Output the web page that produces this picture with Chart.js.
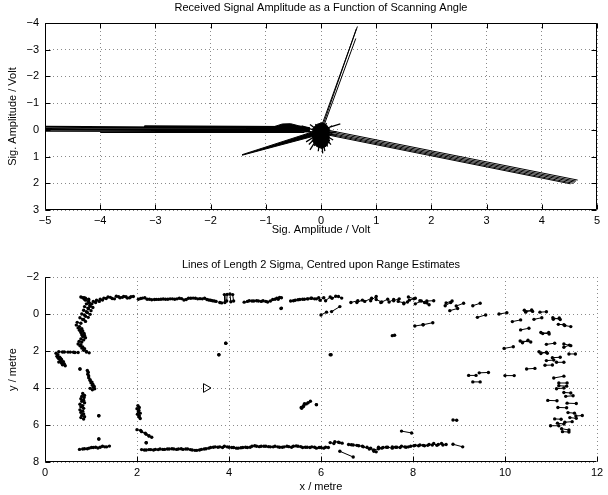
<!DOCTYPE html>
<html><head><meta charset="utf-8">
<script src="https://cdn.jsdelivr.net/npm/chart.js@4/dist/chart.umd.min.js"></script>
<style>
html,body{margin:0;padding:0;background:#fff;}
#w1{position:absolute;left:0;top:0;width:608px;height:240px;}
#w2{position:absolute;left:0;top:240px;width:608px;height:255px;}
</style></head><body>
<div id="w1"><canvas id="c1" width="608" height="240"></canvas></div>
<div id="w2"><canvas id="c2" width="608" height="255"></canvas></div>
<script>
// ---------- TOP CHART DATA (segments: [x1, y1, x2, y2]) ----------
const topTitle = 'Received Signal Amplitude as a Function of Scanning Angle';
const topXLabel = 'Sig. Amplitude / Volt';
const topYLabel = 'Sig. Amplitude / Volt';
const topXRange = [-5, 5];
const topYRange = [-4, 3];

const leftBand = [
  [-0.55,-0.08,-5.3,-0.14],[-0.5,-0.04,-5.3,-0.1],[-0.45,0.0,-5.3,-0.05],
  [-0.4,0.04,-5.3,0.0],[-0.35,0.07,-5.3,0.05],[-0.3,0.1,-4.0,0.1],
  [-0.6,-0.12,-3.2,-0.15],[-0.5,0.02,-2.2,0.0]
];
const upSpike = [
  [0.02,-0.2,0.66,-3.87],[0.04,-0.2,0.64,-3.78],[0.06,-0.2,0.63,-3.42]
];
const rightBand = [
  [0.05,-0.02,4.65,1.88],[0.05,0.03,4.62,1.92],[0.05,0.08,4.6,1.96],
  [0.05,0.12,4.57,2.0],[0.05,0.16,4.52,2.02]
];
const blobSpokes = [
  [0,0.1,-0.35,-0.15],[0,0.1,-0.3,0.05],[0,0.1,-0.3,0.25],[0,0.1,-0.27,0.45],
  [0,0.1,-0.22,0.55],[0,0.1,-0.2,0.75],[0,0.1,-0.12,0.6],[0,0.1,-0.05,0.8],
  [0,0.1,0.03,0.88],[0,0.1,0.07,0.8],[0,0.1,0.12,0.62],[0,0.1,0.18,0.55],
  [0,0.1,0.22,0.38],[0,0.1,0.25,0.2],[0,0.1,0.28,0.08],[0,0.1,0.2,-0.15],
  [0,0.1,0.1,-0.25],[0,0.1,0.0,-0.28],[0,0.1,-0.1,-0.22],[0,0.1,-0.2,-0.2],
  [0,0.0,0.35,-0.22]
];
// filled outlines (pairs of edges, filled between)
const wedgeEdgeA = [[-1.43,0.93],[-0.1,0.04]];
const wedgeEdgeB = [[-1.43,0.95],[-0.1,0.22]];
const blobEdgeA = [[-0.16,-0.02],[-0.08,-0.2],[0.02,-0.27],[0.1,-0.18],[0.16,-0.02]];
const blobEdgeB = [[-0.16,0.4],[-0.08,0.62],[0.02,0.7],[0.1,0.6],[0.16,0.38]];
const bulgeEdgeA = [[-0.85,-0.12],[-0.7,-0.22],[-0.55,-0.23],[-0.4,-0.15],[-0.2,-0.08]];
const bulgeEdgeB = [[-0.85,0.05],[-0.2,0.08]];

// ---------- BOTTOM CHART DATA (segments: [x1, y1, x2, y2]) ----------
const botTitle = 'Lines of Length 2 Sigma, Centred upon Range Estimates';
const botXLabel = 'x / metre';
const botYLabel = 'y / metre';
const botXRange = [0, 12];
const botYRange = [-2, 8];
const robotPose = [3.5, 4.0];

const topWall = [
  [0.78,-0.92,0.85,-0.88],[0.88,-0.86,0.95,-0.8],
  [1.05,-0.68,1.1,-0.62],[1.12,-0.74,1.18,-0.68],[1.2,-0.8,1.25,-0.76],[1.28,-0.86,1.33,-0.84],
  [1.37,-0.92,1.42,-0.9],[1.46,-0.84,1.51,-0.82],[1.55,-0.96,1.6,-0.93],[1.63,-0.88,1.68,-0.9],
  [1.71,-0.95,1.76,-0.93],[1.79,-0.86,1.84,-0.88],[1.87,-0.93,1.92,-0.95],
  [2.03,-0.8,2.08,-0.84],[2.12,-0.86,2.17,-0.88],[2.22,-0.8,2.27,-0.8],[2.32,-0.77,2.38,-0.78],
  [2.42,-0.79,2.47,-0.79],[2.52,-0.8,2.57,-0.81],[2.62,-0.8,2.67,-0.8],[2.72,-0.82,2.77,-0.82],
  [2.82,-0.8,2.87,-0.82],[2.92,-0.85,2.97,-0.83],[3.02,-0.76,3.07,-0.78],[3.12,-0.85,3.17,-0.85],
  [3.22,-0.86,3.27,-0.85],[3.32,-0.82,3.37,-0.83],[3.42,-0.82,3.47,-0.85],[3.52,-0.78,3.56,-0.76],
  [3.6,-0.74,3.64,-0.72],[3.68,-0.7,3.72,-0.68],[3.8,-0.62,3.84,-0.6],
  [3.9,-1.05,3.91,-0.62],[3.96,-1.06,3.95,-0.7],[4.02,-1.08,4.04,-0.66],[4.08,-1.05,4.1,-0.7],
  [4.33,-0.64,4.4,-0.68],[4.44,-0.72,4.5,-0.7],[4.54,-0.7,4.6,-0.72],[4.64,-0.7,4.7,-0.68],
  [4.74,-0.72,4.8,-0.68],[4.84,-0.65,4.9,-0.7],[4.95,-0.78,5.0,-0.8],[5.04,-0.86,5.1,-0.9],
  [5.07,-0.8,5.14,-0.88],[5.34,-0.7,5.4,-0.72],[5.44,-0.74,5.5,-0.77],[5.54,-0.78,5.6,-0.8],
  [5.64,-0.8,5.7,-0.82],[5.72,-0.82,5.78,-0.85],[5.8,-0.85,5.86,-0.82],[5.9,-0.82,5.95,-0.88],
  [5.98,-0.74,6.06,-0.88],[6.1,-0.72,6.2,-0.92],[6.24,-0.85,6.32,-0.96],[6.38,-0.95,6.45,-0.86],
  [6.65,-0.62,6.8,-0.72],[6.78,-0.62,6.9,-0.75],[6.95,-0.68,7.1,-0.85],[7.08,-0.72,7.2,-0.95],
  [7.2,-0.78,7.32,-0.65],[7.3,-0.62,7.45,-0.8],[7.48,-0.65,7.58,-0.78],[7.58,-0.72,7.7,-0.82],
  [7.68,-0.68,7.8,-0.6],[7.8,-0.55,7.88,-0.65],[7.9,-0.92,8.02,-0.82],[7.92,-0.75,8.05,-0.85],
  [8.05,-0.55,8.18,-0.7],[8.15,-0.72,8.3,-0.6],[8.25,-0.62,8.35,-0.5],[8.3,-0.7,8.45,-0.72],
  [8.7,-0.45,8.82,-0.62],[8.72,-0.6,8.85,-0.7],[8.8,-0.18,8.97,-0.3],[8.94,-0.43,9.1,-0.58],
  [9.3,-0.45,9.46,-0.58],[9.4,0.18,9.58,0.05]
];
const leftWall = [
  [0.82,-0.88,0.86,-0.8],[0.88,-0.75,0.95,-0.62],[0.95,-0.7,1.02,-0.55],[0.9,-0.55,0.98,-0.42],
  [0.98,-0.5,1.04,-0.35],[0.86,-0.4,0.94,-0.28],[0.94,-0.32,1.0,-0.18],[0.84,-0.2,0.92,-0.08],
  [0.9,-0.12,0.98,0.02],[0.8,0.0,0.88,0.12],[0.86,0.05,0.94,0.18],[0.76,0.2,0.84,0.3],
  [0.82,0.3,0.88,0.4],[0.7,0.45,0.78,0.5],[0.68,0.6,0.75,0.68],[0.72,0.75,0.8,0.8],
  [0.75,0.88,0.82,0.92],[0.78,1.0,0.85,1.05],[0.8,1.12,0.86,1.16],[0.82,1.22,0.88,1.28],
  [0.78,1.35,0.84,1.4],[0.74,1.48,0.8,1.52],[0.72,1.62,0.78,1.66],[0.76,1.72,0.82,1.78],
  [0.8,1.84,0.86,1.88],[0.84,1.96,0.9,2.02],[0.9,2.06,0.96,2.1],
  [0.3,2.04,0.38,2.05],[0.42,2.05,0.5,2.06],[0.55,2.06,0.62,2.07],[0.65,2.08,0.72,2.08],
  [0.24,2.12,0.28,2.2],[0.26,2.28,0.32,2.34],[0.3,2.42,0.36,2.46],[0.34,2.52,0.4,2.58],
  [0.36,2.64,0.42,2.7],[0.38,2.74,0.44,2.8],[0.3,2.6,0.36,2.65],[0.28,2.36,0.34,2.4],
  [0.92,3.05,0.94,3.15],[0.93,3.25,0.95,3.35],[0.95,3.45,0.98,3.55],[0.98,3.6,1.02,3.68],
  [1.0,3.72,1.04,3.8],[1.03,3.85,1.07,3.92],[1.05,3.96,1.08,4.04],[0.98,4.02,1.03,4.1],
  [0.82,4.3,0.86,4.4],[0.8,4.45,0.85,4.52],[0.78,4.58,0.84,4.66],[0.8,4.72,0.86,4.8],
  [0.76,4.88,0.82,4.95],[0.78,5.02,0.84,5.1],[0.76,5.18,0.82,5.25],[0.78,5.32,0.84,5.4],
  [0.8,5.48,0.86,5.55],[0.78,5.6,0.84,5.68]
];
const bottomWall = [
  [0.75,7.32,0.82,7.3],[0.86,7.28,0.92,7.28],[0.96,7.25,1.01,7.22],[1.05,7.22,1.1,7.2],
  [1.15,7.24,1.2,7.2],[1.25,7.15,1.3,7.18],[1.34,7.18,1.4,7.14],
  [2.1,7.33,2.16,7.35],[2.2,7.35,2.26,7.33],[2.3,7.33,2.36,7.35],[2.4,7.32,2.46,7.33],
  [2.5,7.3,2.56,7.32],[2.6,7.32,2.66,7.3],[2.7,7.3,2.76,7.28],[2.8,7.3,2.86,7.32],
  [2.9,7.3,2.96,7.28],[3.0,7.32,3.06,7.3],[3.1,7.3,3.16,7.33],[3.2,7.35,3.26,7.37],
  [3.3,7.37,3.36,7.35],[3.4,7.32,3.46,7.3],[3.5,7.28,3.56,7.25],[3.6,7.22,3.66,7.2],
  [3.7,7.18,3.76,7.2],[3.8,7.18,3.86,7.22],[3.9,7.15,3.96,7.18],[4.0,7.2,4.06,7.22],
  [4.1,7.22,4.16,7.25],[4.2,7.25,4.26,7.23],[4.3,7.22,4.36,7.2],[4.4,7.22,4.46,7.2],
  [4.5,7.15,4.56,7.12],[4.6,7.15,4.66,7.17],[4.7,7.15,4.76,7.15],[4.8,7.15,4.86,7.17],
  [4.9,7.18,4.96,7.18],[5.0,7.15,5.06,7.18],[5.1,7.2,5.16,7.2],[5.2,7.18,5.26,7.15],
  [5.3,7.17,5.36,7.2],[5.4,7.15,5.46,7.13],[5.5,7.15,5.56,7.17],[5.6,7.22,5.66,7.2],
  [5.7,7.2,5.76,7.22],[5.8,7.18,5.86,7.2],[5.9,7.25,5.96,7.22],[6.0,7.22,6.06,7.25],
  [6.1,7.2,6.16,7.22],[6.2,6.95,6.28,7.0],[6.3,6.9,6.38,6.93],[6.4,6.95,6.46,6.98],
  [6.41,7.42,6.7,7.73],[6.6,7.05,6.66,7.07],[6.7,7.08,6.78,7.1],[6.82,7.12,6.9,7.15],
  [6.92,7.18,7.05,7.3],[7.0,7.2,7.15,7.42],[7.08,7.25,7.2,7.45],[7.15,7.35,7.25,7.28],
  [7.25,7.2,7.32,7.25],[7.35,7.22,7.42,7.2],[7.45,7.2,7.55,7.25],[7.55,7.18,7.62,7.2],
  [7.65,7.2,7.72,7.22],[7.75,7.15,7.82,7.18],[7.85,7.2,7.9,7.18],[7.95,7.15,8.02,7.12],
  [8.05,7.1,8.12,7.12],[8.15,7.08,8.22,7.1],[8.25,7.12,8.32,7.1],[8.35,7.05,8.42,7.08],
  [8.45,7.0,8.52,7.1],[8.55,7.05,8.62,7.0],[8.65,7.08,8.72,7.05],[8.87,7.04,9.08,7.18]
];
const rightCluster = [
  [9.87,0.0,10.04,-0.07],[10.42,-0.2,10.6,-0.14],[10.45,-0.1,10.58,-0.22],[10.76,-0.1,10.9,-0.12],
  [10.16,0.41,10.34,0.32],[10.63,0.29,10.8,0.2],[11.04,0.2,11.2,0.3],[11.05,0.28,11.18,0.22],
  [11.16,0.56,11.28,0.58],[11.3,0.62,11.43,0.68],[10.34,0.86,10.52,0.77],[10.78,1.0,10.96,1.08],
  [10.82,1.06,10.95,1.0],[10.33,1.46,10.56,1.51],[10.38,1.55,10.5,1.42],[10.9,1.64,11.08,1.58],
  [11.28,1.62,11.43,1.71],[11.28,1.8,11.4,1.68],[9.98,1.86,10.18,1.77],[10.74,2.04,10.92,2.12],
  [10.78,2.14,10.9,2.06],[11.39,2.16,11.53,2.16],[11.03,2.36,11.2,2.34],[10.9,2.52,11.06,2.49],
  [11.12,2.61,11.28,2.61],[10.87,2.77,11.03,2.76],[10.47,2.97,10.65,2.94],[9.21,3.32,9.37,3.32],
  [9.44,3.18,9.64,3.16],[9.3,3.67,9.46,3.67],[10.0,3.33,10.2,3.33],[11.06,3.46,11.28,3.36],
  [11.17,3.73,11.35,3.73],[11.17,3.88,11.34,3.9],[11.12,4.04,11.28,4.0],[11.28,4.24,11.43,4.27],
  [11.32,4.45,11.48,4.42],[10.93,4.67,11.13,4.69],[11.35,4.82,11.55,4.84],[11.15,5.05,11.34,5.07],
  [11.37,5.33,11.51,5.36],[11.54,5.51,11.68,5.49],[11.41,5.6,11.55,5.64],[11.08,5.67,11.22,5.69],
  [11.3,5.85,11.46,5.82],[11.14,5.9,11.28,5.95],[10.99,6.04,11.17,6.04],[11.23,6.2,11.39,6.27],
  [11.25,6.36,11.39,6.38]
];
const scattered = [
  [6.0,0.05,6.12,-0.1],[6.23,-0.13,6.41,-0.4],[7.55,1.17,7.6,1.15],[8.04,0.65,8.22,0.58],
  [8.22,0.58,8.43,0.47],[6.2,2.2,6.22,2.2],[3.93,1.58,3.93,1.58],[3.78,2.2,3.78,2.2],
  [5.13,-0.3,5.14,-0.32],[0.76,2.97,0.76,2.97],[1.17,5.5,1.17,5.5],[1.17,6.76,1.17,6.76],
  [2.2,6.96,2.2,6.96],[5.9,4.9,5.9,4.9],[8.87,5.73,8.95,5.74],[7.75,6.33,7.97,6.43],
  [2.02,4.95,2.05,5.05],[2.0,5.12,2.04,5.2],[2.03,5.28,2.07,5.36],[2.01,5.42,2.05,5.5],
  [2.04,5.56,2.07,5.65],[2.0,6.25,2.08,6.3],[2.1,6.36,2.18,6.44],[2.2,6.5,2.26,6.58],
  [2.26,6.6,2.32,6.66],[5.57,5.05,5.64,4.85],[5.62,5.0,5.72,4.8],[5.68,4.86,5.77,4.72],
  [5.58,5.1,5.62,4.95]
];

// ---------- helpers ----------
function segData(list){
  const d = [];
  list.forEach(s => { d.push({x:s[0],y:s[1]},{x:s[2],y:s[3]},{x:s[2],y:null}); });
  return d;
}
function ptData(list){ return list.map(p => ({x:p[0], y:p[1]})); }
const FONT = {family:'"Liberation Sans", Arial, sans-serif', size:11, weight:'normal'};
const fmt = v => (v < 0 ? '\u2212' + Math.abs(v) : String(v));

const frame = {
  id:'frame',
  afterDraw(chart, args, opts){
    const {ctx, chartArea:a, scales} = chart;
    const L = Math.round(a.left)+0.5, R = Math.round(a.right)-0.5;
    const T = Math.round(a.top)+0.5, B = Math.round(a.bottom)-0.5;
    ctx.save();
    ctx.strokeStyle = '#000'; ctx.lineWidth = 1; ctx.setLineDash([]);
    ctx.beginPath();
    ctx.moveTo(L,T); ctx.lineTo(L,B); ctx.lineTo(R,B);
    if (opts.box){ ctx.lineTo(R,T); ctx.lineTo(L,T); }
    const tl = 5;
    scales.x.ticks.forEach(t => {
      const p = Math.round(scales.x.getPixelForValue(t.value))+0.5;
      ctx.moveTo(p,B); ctx.lineTo(p,B-tl);
      if (opts.box){ ctx.moveTo(p,T); ctx.lineTo(p,T+tl); }
    });
    scales.y.ticks.forEach(t => {
      const p = Math.round(scales.y.getPixelForValue(t.value))+0.5;
      ctx.moveTo(L,p); ctx.lineTo(L+tl,p);
      if (opts.box){ ctx.moveTo(R,p); ctx.lineTo(R-tl,p); }
    });
    ctx.stroke();
    ctx.restore();
  }
};

function axes(xr, yr, step, xl, yl, xh){
  const common = {
    type:'linear',
    grid:{color:'#8a8a8a', lineWidth:1, drawTicks:false},
    border:{display:false, dash:[1,3]},
  };
  return {
    x: Object.assign({}, common, {
      min:xr[0], max:xr[1],
      ticks:{stepSize:step[0], callback:fmt, font:FONT, color:'#000', padding:4, maxRotation:0, autoSkip:false},
      title:{display:true, text:xl, font:FONT, color:'#000', padding:{top:0,bottom:xh[1]}},
      afterFit(s){ s.height = xh[0]; }
    }),
    y: Object.assign({}, common, {
      min:yr[0], max:yr[1], reverse:true,
      ticks:{stepSize:step[1], callback:fmt, font:FONT, color:'#000', padding:6, autoSkip:false},
      title:{display:true, text:yl, font:FONT, color:'#000', padding:{top:6,bottom:0}},
      afterFit(s){ s.width = 45; }
    })
  };
}

const lineDs = (data, extra) => Object.assign({
  data, showLine:true, borderColor:'#000', borderWidth:1, pointRadius:0,
  spanGaps:false, fill:false, tension:0
}, extra || {});

// ---------- TOP CHART ----------
new Chart(document.getElementById('c1'), {
  type:'scatter',
  data:{datasets:[
    lineDs(ptData(wedgeEdgeA), {fill:'+1', backgroundColor:'#000'}),
    lineDs(ptData(wedgeEdgeB)),
    lineDs(ptData(blobEdgeA), {fill:'+1', backgroundColor:'#000'}),
    lineDs(ptData(blobEdgeB)),
    lineDs(ptData(bulgeEdgeA), {fill:'+1', backgroundColor:'#000'}),
    lineDs(ptData(bulgeEdgeB)),
    lineDs(segData(leftBand), {borderWidth:1.1}),
    lineDs(segData(upSpike)),
    lineDs(segData(rightBand)),
    lineDs(segData(blobSpokes), {borderWidth:1.3})
  ]},
  options:{
    responsive:false, animation:false, devicePixelRatio:1,
    layout:{padding:{left:0,right:11,top:0,bottom:0}},
    plugins:{
      legend:{display:false}, tooltip:{enabled:false},
      title:{display:true, text:topTitle, font:FONT, color:'#000', fullSize:false, padding:{top:1.5,bottom:8.3}},
      frame:{box:true}
    },
    scales: axes(topXRange, topYRange, [1,1], topXLabel, topYLabel, [30, 3])
  },
  plugins:[frame]
});

// ---------- BOTTOM CHART ----------
const segStyle = {borderWidth:1, pointRadius:1.7, pointBackgroundColor:'#000', pointBorderWidth:0};
new Chart(document.getElementById('c2'), {
  type:'scatter',
  data:{datasets:[
    lineDs(segData(topWall), segStyle),
    lineDs(segData(leftWall), segStyle),
    lineDs(segData(bottomWall), segStyle),
    lineDs(segData(rightCluster), segStyle),
    lineDs(segData(scattered), segStyle),
    {data:[{x:robotPose[0], y:robotPose[1]}], showLine:false, pointStyle:'triangle', rotation:90,
     pointRadius:5, borderColor:'#000', backgroundColor:'rgba(0,0,0,0)', borderWidth:1}
  ]},
  options:{
    responsive:false, animation:false, devicePixelRatio:1,
    layout:{padding:{left:0,right:11,top:0,bottom:0}},
    plugins:{
      legend:{display:false}, tooltip:{enabled:false},
      title:{display:true, text:botTitle, font:FONT, color:'#000', fullSize:false, padding:{top:18.4,bottom:5.4}},
      frame:{box:false}
    },
    scales: axes(botXRange, botYRange, [2,2], botXLabel, botYLabel, [33, 1.4])
  },
  plugins:[frame]
});
</script></body></html>
